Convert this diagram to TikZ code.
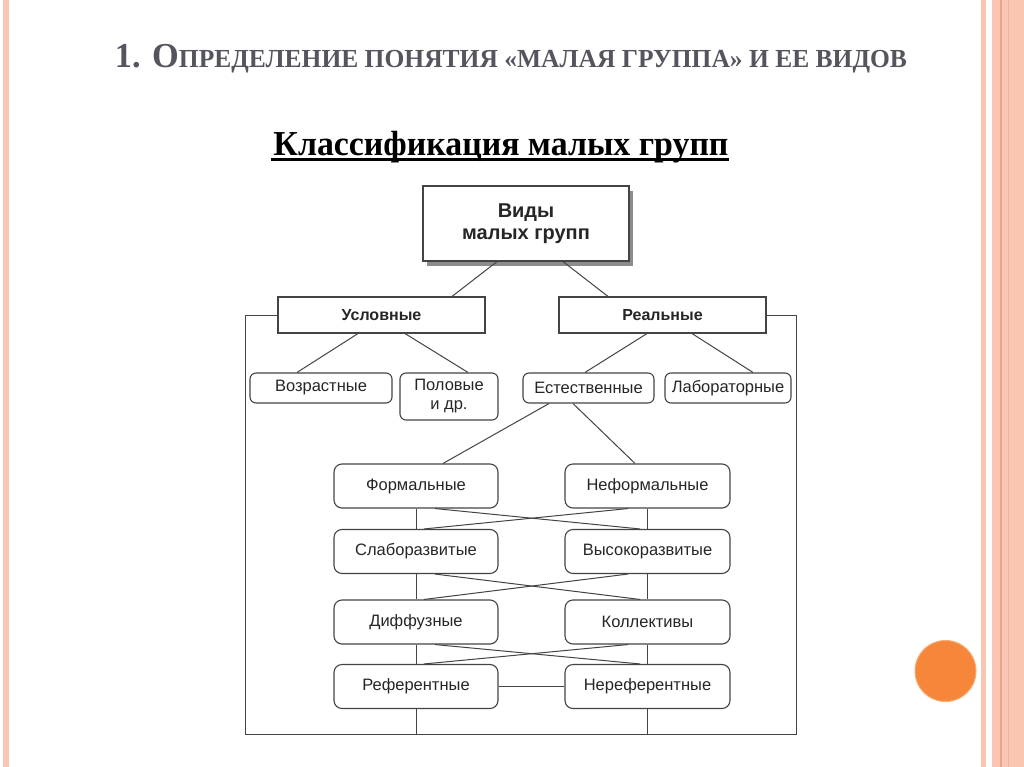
\documentclass[tikz,border=0pt]{standalone}
\usepackage{fontspec}
\setmainfont{Liberation Serif}
\newfontfamily\sansf{Liberation Sans}
\usetikzlibrary{calc,shadows}
\definecolor{stripe}{HTML}{F8C6B2}
\definecolor{stripedark}{HTML}{EBA68A}
\definecolor{titlegray}{HTML}{55555F}
\definecolor{orng}{HTML}{F6873A}
\definecolor{linec}{HTML}{444444}
\definecolor{txt}{HTML}{262626}
\tikzset{
  topbox/.style={draw=linec, line width=1.2pt, fill=white, minimum width=206pt, minimum height=75pt,
    inner sep=0pt, align=center, font=\sansf\bfseries\fontsize{20}{21.5}\selectfont, text=txt,
    drop shadow={shadow xshift=4pt, shadow yshift=-5pt, fill=black!45, opacity=1}},
  sqbox/.style={draw=linec, line width=1.1pt, fill=white, minimum width=207pt, minimum height=36pt,
    inner sep=0pt, font=\sansf\bfseries\fontsize{16}{18}\selectfont, text=txt},
  rbox/.style={draw=linec, line width=1.1pt, fill=white, rounded corners=6pt, inner sep=0pt,
    minimum height=30pt, align=center, font=\sansf\fontsize{16.5}{19}\selectfont, text=txt},
  lbox/.style={rbox, minimum height=44pt, minimum width=164pt, rounded corners=8pt},
  conn/.style={draw=linec, line width=1pt},
}
\begin{document}
\begin{tikzpicture}[x=1pt,y=-1pt]
\useasboundingbox (0,0) rectangle (1024,767);
\fill[white] (0,0) rectangle (1024,767);
% decorative stripes
\fill[stripe] (3,0) rectangle (9,767);
\fill[stripe] (981,0) rectangle (986,767);
\fill[stripe] (992,0) rectangle (1024,767);
\fill[stripedark] (1000,0) rectangle (1001.5,767);
\fill[stripedark!60!stripe] (1007.5,0) rectangle (1009,767);
\node[circle, fill=orng, draw=orng!70!white, line width=1pt, minimum size=61pt, inner sep=0pt] (dot) at (945.5,671) {};
% titles
\node[anchor=base, inner sep=0pt, text=titlegray] (title) at (511,68)
  {\resizebox{792pt}{\height}{\bfseries\fontsize{35}{35}\selectfont 1. О\fontsize{26}{26}\selectfont ПРЕДЕЛЕНИЕ ПОНЯТИЯ «МАЛАЯ ГРУППА» И ЕЕ ВИДОВ}};
\node[anchor=base, inner sep=0pt] (sub) at (501,156)
  {\resizebox{455pt}{\height}{\bfseries\fontsize{35}{35}\selectfont Классификация малых групп}};
\draw[line width=3pt] ($(sub.base west)+(-2,4)$) -- ($(sub.base east)+(0,4)$);
% nodes
\node[topbox] (top) at (526,223.5) {Виды\\малых групп};
\node[sqbox] (usl) at (381.5,315) {Условные};
\node[sqbox] (real) at (662.5,315) {Реальные};
\node[rbox, minimum width=142pt] (voz) at (321,388) {Возрастные};
\node[rbox, minimum width=98pt, minimum height=47pt] (pol) at (449,396.5) {Половые\\и др.};
\node[rbox, minimum width=131pt] (est) at (588.5,388) {Естественные};
\node[rbox, minimum width=126pt] (lab) at (728,388) {Лабораторные};
\node[lbox] (form) at (416,486) {Формальные};
\node[lbox, minimum width=165pt] (nform) at (647.5,486) {Неформальные};
\node[lbox] (slab) at (416,551.5) {Слаборазвитые};
\node[lbox, minimum width=165pt] (vys) at (647.5,551.5) {Высокоразвитые};
\node[lbox] (dif) at (416,622) {Диффузные};
\node[lbox, minimum width=165pt] (kol) at (647.5,622) {Коллективы};
\node[lbox] (ref) at (416,686.5) {Референтные};
\node[lbox, minimum width=165pt] (nref) at (647.5,686.5) {Нереферентные};
\coordinate (fbl) at (245,734);
\coordinate (fbr) at (796,734);
% connectors
\draw[conn] ([xshift=-29pt]top.south) -- ([xshift=70.5pt]usl.north);
\draw[conn] ([xshift=37pt]top.south) -- ([xshift=-54.5pt]real.north);
\draw[conn] ([xshift=-23.5pt]usl.south) -- ([xshift=-24pt]voz.north);
\draw[conn] ([xshift=23.5pt]usl.south) -- ([xshift=19pt]pol.north);
\draw[conn] ([xshift=-15.5pt]real.south) -- ([xshift=-3.5pt]est.north);
\draw[conn] ([xshift=29.5pt]real.south) -- ([xshift=25pt]lab.north);
\draw[conn] ([xshift=-39.5pt]est.south) -- ([xshift=27pt]form.north);
\draw[conn] ([xshift=-15.5pt]est.south) -- ([xshift=-12.5pt]nform.north);
% frame
\draw[conn] (usl.west) -| (fbl) -- (fbr) |- (real.east);
% lattice
\draw[conn] (form.south) -- (slab.north);
\draw[conn] (slab.south) -- (dif.north);
\draw[conn] (dif.south) -- (ref.north);
\draw[conn] (ref.south) -- (ref.south |- fbl);
\draw[conn] (nform.south) -- (vys.north);
\draw[conn] (vys.south) -- (kol.north);
\draw[conn] (kol.south) -- (nref.north);
\draw[conn] (nref.south) -- (nref.south |- fbr);
\draw[conn] ([xshift=19pt]form.south) -- ([xshift=-7.5pt]vys.north);
\draw[conn] ([xshift=-19.5pt]nform.south) -- ([xshift=8pt]slab.north);
\draw[conn] ([xshift=19pt]slab.south) -- ([xshift=-7.5pt]kol.north);
\draw[conn] ([xshift=-19.5pt]vys.south) -- ([xshift=8pt]dif.north);
\draw[conn] ([xshift=19pt]dif.south) -- ([xshift=-7.5pt]nref.north);
\draw[conn] ([xshift=-19.5pt]kol.south) -- ([xshift=8pt]ref.north);
\draw[conn] (ref.east) -- (nref.west);
\end{tikzpicture}
\end{document}
